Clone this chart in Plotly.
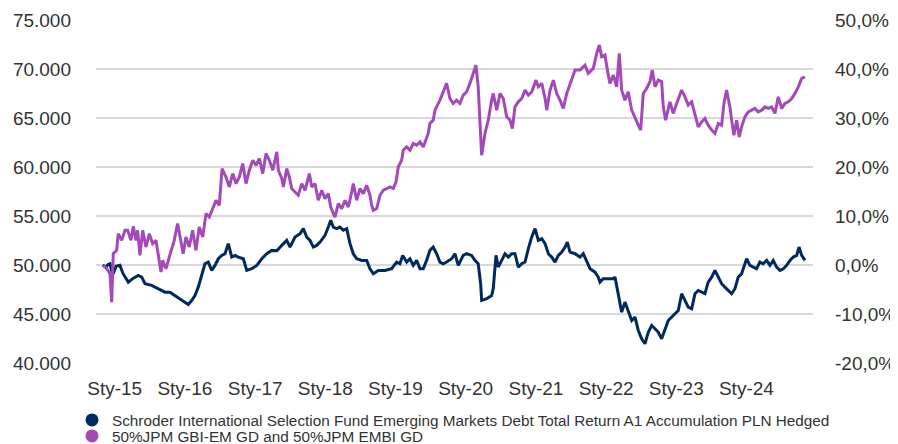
import numpy as np
import pandas as pd
import plotly.graph_objects as go

# ---- data ----
fund_name = "Schroder International Selection Fund Emerging Markets Debt Total Return A1 Accumulation PLN Hedged"
bench_name = "50%JPM GBI-EM GD and 50%JPM EMBI GD"

# fund: decimal year, value (left axis)
fund_t = [2014.829, 2014.876, 2014.905, 2014.933, 2014.954, 2014.980, 2015.019, 2015.075, 2015.118, 2015.194,
          2015.261, 2015.336, 2015.385, 2015.432, 2015.527, 2015.621, 2015.717, 2015.788, 2015.859, 2015.930,
          2016.001, 2016.048, 2016.097, 2016.144, 2016.191, 2016.239, 2016.286, 2016.333, 2016.382, 2016.429,
          2016.476, 2016.524, 2016.571, 2016.618, 2016.667, 2016.714, 2016.761, 2016.832, 2016.880, 2016.952,
          2017.023, 2017.094, 2017.165, 2017.236, 2017.308, 2017.379, 2017.450, 2017.497, 2017.568, 2017.640,
          2017.687, 2017.735, 2017.782, 2017.829, 2017.877, 2017.925, 2017.996, 2018.043, 2018.077, 2018.114,
          2018.162, 2018.209, 2018.256, 2018.305, 2018.352, 2018.399, 2018.447, 2018.519, 2018.590, 2018.637,
          2018.684, 2018.755, 2018.850, 2018.946, 2019.017, 2019.064, 2019.103, 2019.160, 2019.207, 2019.254,
          2019.302, 2019.349, 2019.396, 2019.444, 2019.491, 2019.538, 2019.587, 2019.634, 2019.681, 2019.729,
          2019.801, 2019.848, 2019.895, 2019.966, 2020.014, 2020.085, 2020.132, 2020.179, 2020.214, 2020.228,
          2020.299, 2020.370, 2020.393, 2020.432, 2020.464, 2020.513, 2020.560, 2020.607, 2020.655, 2020.702,
          2020.749, 2020.798, 2020.845, 2020.892, 2020.940, 2020.987, 2021.034, 2021.083, 2021.130, 2021.177,
          2021.225, 2021.272, 2021.319, 2021.368, 2021.415, 2021.447, 2021.486, 2021.557, 2021.628, 2021.675,
          2021.724, 2021.771, 2021.842, 2021.889, 2021.913, 2021.960, 2022.031, 2022.103, 2022.127, 2022.174,
          2022.222, 2022.269, 2022.316, 2022.365, 2022.412, 2022.459, 2022.507, 2022.554, 2022.601, 2022.650,
          2022.697, 2022.744, 2022.792, 2022.839, 2022.886, 2022.957, 2023.029, 2023.077, 2023.124, 2023.171,
          2023.220, 2023.267, 2023.314, 2023.362, 2023.409, 2023.456, 2023.505, 2023.552, 2023.599, 2023.647,
          2023.694, 2023.741, 2023.790, 2023.837, 2023.884, 2023.932, 2023.979, 2024.003, 2024.050, 2024.097,
          2024.145, 2024.192, 2024.239, 2024.288, 2024.335, 2024.382, 2024.430, 2024.477, 2024.524, 2024.573,
          2024.620, 2024.667, 2024.715, 2024.748, 2024.786, 2024.833]
fund_v = [50000, 49750, 50060, 50130, 49450, 49110, 49860, 49960, 49140, 48250,
          48630, 48940, 48760, 48090, 47920, 47580, 47230, 47230, 46890, 46560,
          46210, 45970, 46380, 46890, 47740, 48940, 50130, 50300, 49450, 49960,
          50640, 50980, 51150, 52180, 50810, 50980, 50810, 50640, 49450, 49620,
          49960, 50640, 51150, 51490, 51460, 52000, 52510, 51830, 52850, 53200,
          53710, 52850, 52510, 51830, 52000, 52340, 53030, 53870, 54560, 53870,
          53710, 53870, 53540, 53710, 52180, 51150, 50640, 50470, 50470, 49620,
          49110, 49450, 49450, 49620, 50300, 50130, 50980, 50300, 50640, 49960,
          50470, 49620, 49620, 50470, 51490, 51830, 51150, 50300, 50130, 50300,
          50640, 51150, 49960, 50980, 51150, 50980, 50470, 50130, 48090, 46380,
          46560, 46890, 47580, 50980, 49790, 50470, 51150, 50810, 51150, 51150,
          49790, 50130, 50300, 51670, 52850, 53710, 52510, 52690, 52180, 51150,
          50810, 50300, 50980, 51320, 51830, 52340, 51320, 51150, 50810, 51150,
          50300, 49620, 49270, 48760, 48250, 48600, 48600, 48600, 48760, 47070,
          45190, 46210, 45360, 44340, 44680, 43320, 42470, 41960, 43140, 43830,
          43490, 43140, 42470, 43320, 44340, 44850, 45360, 47070, 46380, 45700,
          45530, 47070, 47400, 47230, 47070, 48250, 48760, 49450, 48760, 48090,
          47740, 47400, 47070, 47580, 48760, 49110, 50300, 50640, 49960, 49790,
          49620, 50300, 50130, 50470, 49960, 50470, 49790, 49450, 49620, 49960,
          50470, 50810, 50980, 51830, 50980, 50470]

# benchmark: decimal year, cumulative return in % (right axis)
bench_t = [2014.838, 2014.886, 2014.933, 2014.957, 2014.980, 2015.028, 2015.051, 2015.100, 2015.147, 2015.185,
           2015.232, 2015.265, 2015.303, 2015.327, 2015.360, 2015.399, 2015.446, 2015.493, 2015.541, 2015.588,
           2015.635, 2015.660, 2015.684, 2015.731, 2015.778, 2015.849, 2015.897, 2015.944, 2015.977, 2016.016,
           2016.063, 2016.111, 2016.158, 2016.205, 2016.254, 2016.301, 2016.348, 2016.396, 2016.443, 2016.490,
           2016.529, 2016.585, 2016.633, 2016.681, 2016.728, 2016.775, 2016.823, 2016.870, 2016.917, 2016.966,
           2017.013, 2017.060, 2017.108, 2017.155, 2017.202, 2017.251, 2017.308, 2017.331, 2017.379, 2017.402,
           2017.450, 2017.487, 2017.521, 2017.568, 2017.615, 2017.664, 2017.711, 2017.772, 2017.806, 2017.853,
           2017.900, 2017.949, 2017.996, 2018.043, 2018.077, 2018.114, 2018.138, 2018.185, 2018.234, 2018.281,
           2018.328, 2018.376, 2018.399, 2018.447, 2018.494, 2018.541, 2018.590, 2018.637, 2018.661, 2018.684,
           2018.732, 2018.779, 2018.827, 2018.875, 2018.922, 2018.969, 2019.007, 2019.040, 2019.088, 2019.111,
           2019.160, 2019.207, 2019.254, 2019.302, 2019.349, 2019.396, 2019.444, 2019.467, 2019.491, 2019.538,
           2019.563, 2019.634, 2019.681, 2019.729, 2019.776, 2019.823, 2019.871, 2019.919, 2019.966, 2020.014,
           2020.061, 2020.108, 2020.147, 2020.179, 2020.204, 2020.228, 2020.275, 2020.322, 2020.370, 2020.393,
           2020.442, 2020.489, 2020.536, 2020.584, 2020.631, 2020.664, 2020.702, 2020.749, 2020.798, 2020.845,
           2020.892, 2020.940, 2021.001, 2021.034, 2021.083, 2021.130, 2021.154, 2021.201, 2021.248, 2021.296,
           2021.343, 2021.390, 2021.439, 2021.510, 2021.557, 2021.628, 2021.699, 2021.746, 2021.818, 2021.866,
           2021.903, 2021.937, 2021.984, 2022.031, 2022.055, 2022.103, 2022.151, 2022.188, 2022.222, 2022.269,
           2022.316, 2022.365, 2022.412, 2022.459, 2022.493, 2022.530, 2022.578, 2022.625, 2022.658, 2022.697,
           2022.744, 2022.792, 2022.815, 2022.849, 2022.910, 2022.957, 2023.006, 2023.077, 2023.124, 2023.171,
           2023.220, 2023.267, 2023.314, 2023.362, 2023.409, 2023.456, 2023.505, 2023.552, 2023.599, 2023.647,
           2023.680, 2023.718, 2023.765, 2023.790, 2023.822, 2023.861, 2023.898, 2023.932, 2023.979, 2024.026,
           2024.074, 2024.121, 2024.168, 2024.217, 2024.264, 2024.311, 2024.359, 2024.406, 2024.453, 2024.502,
           2024.549, 2024.596, 2024.644, 2024.691, 2024.738, 2024.786, 2024.833]
bench_p = [0.00, -0.76, -1.78, -7.58, 2.31, 2.98, 6.40, 5.03, 7.07, 7.07,
           5.03, 7.89, 5.03, 7.07, 1.96, 7.07, 3.66, 6.40, 4.35, 5.03,
           0.94, -1.45, 0.94, -0.76, 1.61, 5.03, 8.44, 5.03, 2.31, 5.70,
           3.66, 7.07, 2.98, 7.75, 5.70, 10.49, 9.79, 11.51, 13.20, 12.18,
           19.68, 17.97, 15.92, 18.66, 16.62, 17.97, 20.71, 16.62, 19.34, 21.38,
           20.36, 21.73, 18.66, 22.75, 21.38, 19.34, 23.08, 19.34, 17.64, 15.92,
           19.68, 17.97, 15.60, 14.90, 14.23, 16.62, 15.25, 18.66, 15.92, 16.62,
           13.20, 15.25, 13.55, 14.57, 11.83, 10.49, 9.79, 12.53, 11.51, 13.20,
           11.83, 14.90, 16.62, 13.20, 15.60, 14.57, 16.27, 14.23, 12.18, 11.16,
           11.51, 14.23, 15.25, 15.60, 15.92, 15.60, 16.94, 20.01, 21.38, 23.42,
           24.10, 23.42, 24.79, 24.45, 25.12, 24.10, 25.82, 26.84, 28.88, 29.56,
           31.60, 33.64, 35.34, 37.06, 33.99, 32.97, 33.64, 32.97, 34.67, 35.34,
           37.06, 39.10, 40.80, 36.36, 28.19, 22.40, 26.84, 29.56, 33.64, 35.01,
           31.60, 35.01, 33.99, 30.23, 29.56, 27.86, 32.27, 33.30, 33.99, 35.69,
           34.67, 35.34, 37.73, 36.36, 37.06, 33.99, 31.60, 35.69, 37.73, 35.01,
           33.64, 31.95, 35.01, 38.08, 39.78, 39.78, 40.80, 39.10, 40.12, 43.19,
           44.89, 42.49, 42.84, 38.75, 37.06, 38.75, 36.36, 43.19, 35.69, 33.64,
           35.34, 31.60, 30.23, 28.54, 27.52, 35.01, 36.04, 37.39, 39.78, 36.36,
           37.73, 37.39, 32.27, 29.56, 33.30, 30.93, 32.97, 35.69, 34.32, 32.62,
           33.30, 30.93, 28.19, 29.21, 29.90, 28.54, 27.52, 26.84, 28.88, 28.54,
           32.97, 35.69, 32.27, 29.56, 26.49, 29.56, 26.14, 28.19, 30.23, 31.25,
           31.60, 31.95, 31.25, 31.60, 32.27, 31.95, 32.27, 30.93, 34.32, 31.95,
           32.97, 33.30, 33.99, 35.01, 36.36, 38.08, 38.41]

tick_years = [2015, 2016, 2017, 2018, 2019, 2020, 2021, 2022, 2023, 2024]
tick_labels = ["Sty-15", "Sty-16", "Sty-17", "Sty-18", "Sty-19",
               "Sty-20", "Sty-21", "Sty-22", "Sty-23", "Sty-24"]
left_vals = [40000, 45000, 50000, 55000, 60000, 65000, 70000, 75000]
left_text = ["40.000", "45.000", "50.000", "55.000", "60.000", "65.000", "70.000", "75.000"]
right_vals = [-20, -10, 0, 10, 20, 30, 40, 50]
right_text = ["-20,0%", "-10,0%", "0,0%", "10,0%", "20,0%", "30,0%", "40,0%", "50,0%"]


def dec_to_date(v):
    y = int(np.floor(v))
    start = pd.Timestamp(year=y, month=1, day=1)
    end = pd.Timestamp(year=y + 1, month=1, day=1)
    return start + (end - start) * (v - y)


fund_dates = [dec_to_date(v) for v in fund_t]
bench_dates = [dec_to_date(v) for v in bench_t]
tick_dates = [pd.Timestamp(year=y, month=1, day=1) for y in tick_years]

NAVY = "#002A5E"
PURPLE = "#A349B9"
FONT = "Liberation Sans, Arial, sans-serif"
TXT = "#333333"

fig = go.Figure()
fig.add_trace(go.Scatter(x=bench_dates, y=bench_p, mode="lines", yaxis="y2",
                         line=dict(color=PURPLE, width=3), showlegend=False, hoverinfo="skip"))
fig.add_trace(go.Scatter(x=fund_dates, y=fund_v, mode="lines", yaxis="y",
                         line=dict(color=NAVY, width=3), showlegend=False, hoverinfo="skip"))
# legend entries (circle markers), one legend per row for exact row spacing
fig.add_trace(go.Scatter(x=[None], y=[None], mode="markers", name=fund_name, legend="legend",
                         marker=dict(color=NAVY, size=13, symbol="circle")))
fig.add_trace(go.Scatter(x=[None], y=[None], mode="markers", name=bench_name, legend="legend2",
                         marker=dict(color=PURPLE, size=13, symbol="circle")))

# the page adds an 8 px body margin, so figure coordinates are offset by 8 px
legend_common = dict(
    orientation="v", xref="container", yref="container",
    x=64 / 898, xanchor="left", yanchor="middle",
    font=dict(size=15.3, color=TXT, family=FONT),
    itemsizing="trace", bgcolor="rgba(0,0,0,0)",
)

fig.update_layout(
    width=898, height=444,
    margin=dict(l=88, r=93, t=12, b=89, autoexpand=False),
    paper_bgcolor="white", plot_bgcolor="white",
    font=dict(family=FONT, color=TXT, size=19),
    xaxis=dict(
        type="date",
        range=[dec_to_date(2014.7336), dec_to_date(2024.947)],
        tickvals=tick_dates, ticktext=tick_labels,
        showgrid=False, zeroline=False, showline=False, ticks="",
        ticklabelstandoff=12,
        tickfont=dict(size=19, color=TXT, family=FONT),
    ),
    yaxis=dict(
        range=[40000, 75000], tickvals=left_vals, ticktext=left_text,
        showgrid=True, gridcolor="#D9D9D9", gridwidth=2,
        zeroline=False, showline=False, ticks="",
        ticklabelstandoff=24,
        tickfont=dict(size=19, color=TXT, family=FONT),
    ),
    yaxis2=dict(
        range=[-20, 50], tickvals=right_vals, ticktext=right_text,
        overlaying="y", side="right", showgrid=False, zeroline=False,
        showline=False, ticks="", ticklabelstandoff=21,
        tickfont=dict(size=19, color=TXT, family=FONT),
    ),
    legend=dict(legend_common, y=1 - 412 / 444),
    legend2=dict(legend_common, y=1 - 428 / 444),
    showlegend=True,
)

fig.write_html("out.html")
